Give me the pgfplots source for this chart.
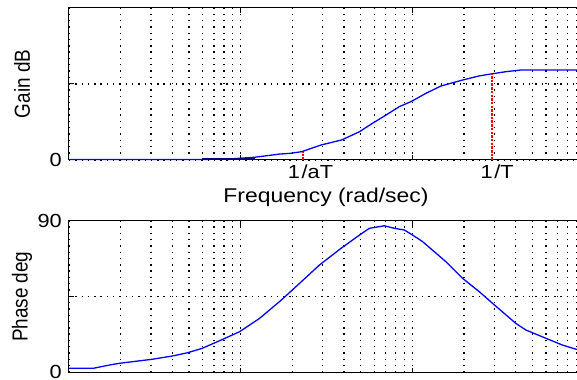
\documentclass[border=0pt]{standalone}
\usepackage{fontspec}
\setmainfont{Liberation Sans}
\usepackage{graphicx}
\usepackage{pgfplots}
\pgfplotsset{compat=1.18}
\definecolor{navyline}{rgb}{0,0,0.5}
\newcommand{\hs}[1]{\scalebox{1.15}[1]{#1}}
\newcommand{\vs}[1]{\scalebox{1}[1.15]{#1}}
\begin{document}
\begin{tikzpicture}
\useasboundingbox (0,0) rectangle (577bp,380bp);
\clip (0,0) rectangle (577bp,380bp);
% Gain
\begin{axis}[xmode=log, xmin=0.1, xmax=100, clip=false,
    scale only axis, width=515bp, height=152bp,
    at={(69bp,220bp)}, anchor=south west,
    axis line style={black, line width=1bp},
    xtick={0.1,1,10,100}, xticklabels={},
    minor xtick={0.2,0.3,0.4,0.5,0.6,0.7,0.8,0.9,2,3,4,5,6,7,8,9,20,30,40,50,60,70,80,90},
    tick align=inside, major tick length=5bp, minor tick length=0pt,
    tick style={black, line width=1bp},
    xmajorgrids, xminorgrids, ymajorgrids,
    major grid style={black, dash pattern=on 1.4bp off 4.9bp, line width=1.3bp},
    minor grid style={black, dash pattern=on 1.4bp off 4.9bp, line width=1.3bp},
    yticklabel style={font=\fontsize{19}{22}\selectfont, anchor=east, inner sep=0pt, xshift=-7bp},
    ylabel style={font=\fontsize{19}{22}\selectfont, at={(axis description cs:-0.0913,0.5)}, anchor=center},
  ymin=0, ymax=100, ytick={0,50}, yticklabels={\hs{0},{}},
  ylabel={\vs{Gain dB}}]
\addplot[blue, line width=1.3bp] coordinates {
(0.1,0.3) (0.593,0.3) (0.863,0.7) (1.206,1.8) (1.686,3.9) (1.953,4.4) (2.272,5.5)
(2.945,9.9) (3.88,13.2) (4.92,18.6) (5.85,24.1) (7.03,29.6) (8.40,35.1)
(9.82,38.4) (12.02,43.9) (14.69,48.7) (19.6,52.6) (24.5,55.3) (28.7,56.6)
(35.1,58.1) (42.9,59.2) (100,59.2)};
\addplot[navyline, line width=2bp] coordinates {(0.593,0.9) (1.206,0.9)};
\addplot[red, line width=1.5bp, dash pattern=on 2.5bp off 1.2bp] coordinates {(2.30,0) (2.30,5.3)};
\addplot[red, line width=1.5bp, dash pattern=on 2.5bp off 1.2bp] coordinates {(29.06,0) (29.06,56.3)};
\node[anchor=north, inner sep=0pt, font=\fontsize{19}{22}\selectfont, yshift=-5bp] at (axis cs:2.55,0) {\hs{1\kern1.5bp/aT}};
\node[anchor=north, inner sep=0pt, font=\fontsize{19}{22}\selectfont, yshift=-5bp] at (axis cs:31.2,0) {\hs{1\kern1.5bp/T}};
\end{axis}
% Phase
\begin{axis}[xmode=log, xmin=0.1, xmax=100, clip=false,
    scale only axis, width=515bp, height=152bp,
    at={(69bp,7.3bp)}, anchor=south west,
    axis line style={black, line width=1bp},
    xtick={0.1,1,10,100}, xticklabels={},
    minor xtick={0.2,0.3,0.4,0.5,0.6,0.7,0.8,0.9,2,3,4,5,6,7,8,9,20,30,40,50,60,70,80,90},
    tick align=inside, major tick length=5bp, minor tick length=0pt,
    tick style={black, line width=1bp},
    xmajorgrids, xminorgrids, ymajorgrids,
    major grid style={black, dash pattern=on 1.4bp off 4.9bp, line width=1.3bp},
    minor grid style={black, dash pattern=on 1.4bp off 4.9bp, line width=1.3bp},
    yticklabel style={font=\fontsize{19}{22}\selectfont, anchor=east, inner sep=0pt, xshift=-7bp},
    ylabel style={font=\fontsize{19}{22}\selectfont, at={(axis description cs:-0.0913,0.5)}, anchor=center},
  ymin=0, ymax=90, ytick={0,45,90}, yticklabels={\raisebox{1.2bp}{\hs{0}},{},\hs{90}},
  ylabel={\vs{Phase deg}}]
\addplot[blue, line width=1.3bp] coordinates {
(0.1,2.6) (0.1384,2.6) (0.1731,4.6) (0.198,5.6) (0.3026,7.9) (0.4008,9.9)
(0.4897,11.8) (0.5957,14.4) (0.7722,19.4) (0.9867,24.3) (1.290,32.2)
(1.724,43.0) (2.203,52.9) (2.879,63.8) (3.850,73.7) (4.920,81.5) (5.623,85.5)
(6.875,87.0) (7.859,85.5) (8.985,84.5) (10.04,81.5) (11.48,77.6) (15.70,65.7)
(19.61,55.9) (24.52,48.0) (29.31,41.1) (40.09,29.2) (45.81,25.3) (59.89,20.4)
(74.78,16.4) (89.85,13.9) (100,13.2)};
\end{axis}
\node[anchor=base, inner sep=0pt, font=\fontsize{20}{24}\selectfont] at (326bp,177.3bp) {\hs{Frequency (rad/sec)}};
\end{tikzpicture}
\end{document}
